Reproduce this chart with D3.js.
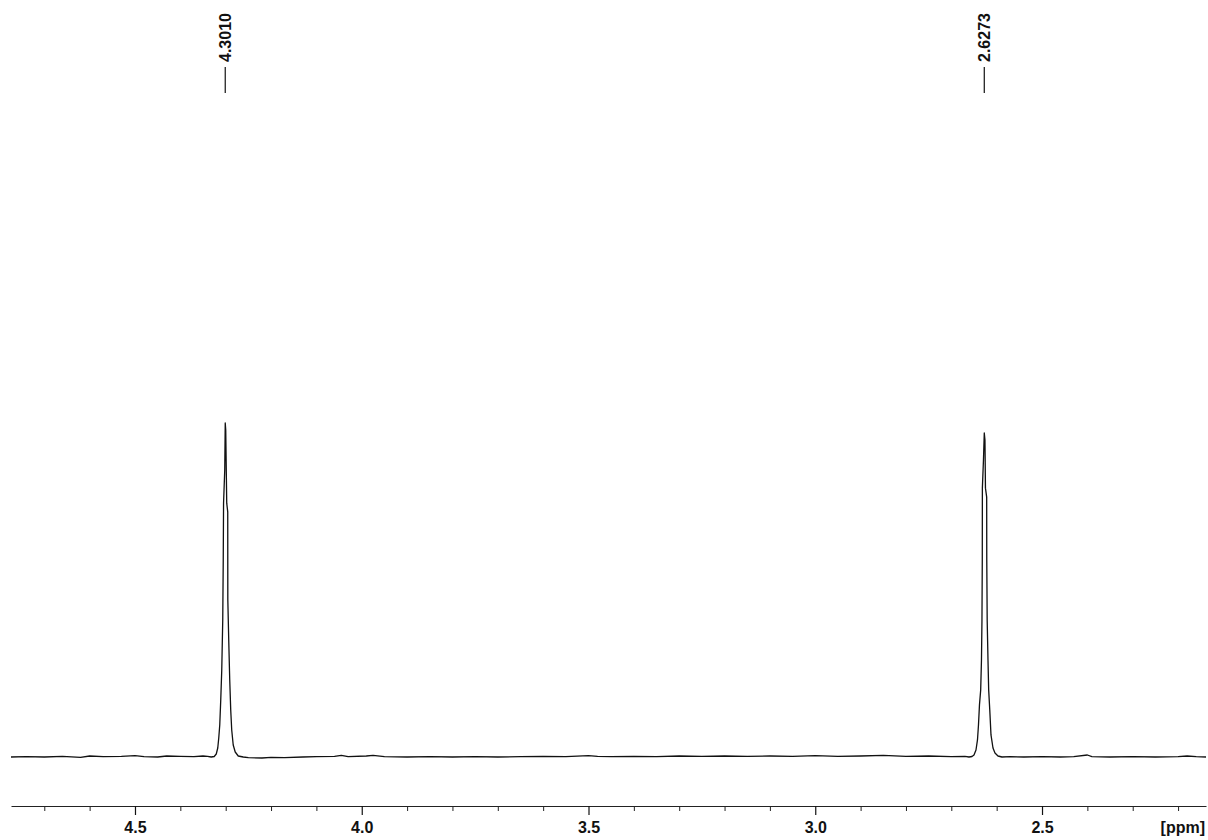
<!DOCTYPE html>
<html>
<head>
<meta charset="utf-8">
<script src="https://cdn.jsdelivr.net/npm/d3@7"></script>
<style>
  html, body { margin: 0; padding: 0; background: #fff; }
  svg { display: block; }
  text { font-family: "Liberation Sans", Arial, sans-serif; }
</style>
</head>
<body>
<svg id="chart" width="1208" height="840"></svg>
<script>
// 1H NMR spectrum, chemical shift in ppm (reversed axis), relative intensity

// Flat baseline with small noise
const baselinePpm = [4.7734, 4.74, 4.70, 4.66, 4.62, 4.60, 4.57, 4.53, 4.50, 4.48, 4.45, 4.43, 4.40, 4.37, 4.35, 4.34,
  4.25, 4.22, 4.20, 4.17, 4.13, 4.10, 4.06, 4.045, 4.03, 3.99, 3.975, 3.95, 3.90, 3.85, 3.80, 3.75, 3.70, 3.65,
  3.60, 3.55, 3.50, 3.48, 3.45, 3.40, 3.35, 3.30, 3.25, 3.20, 3.15, 3.10, 3.05, 3.00, 2.95, 2.90, 2.85, 2.80,
  2.75, 2.70, 2.67,
  2.57, 2.54, 2.50, 2.46, 2.43, 2.40, 2.39, 2.35, 2.30, 2.25, 2.20, 2.18, 2.16, 2.1384];
const baselineInt = [0.0, 0.1, 0.0, 0.2, -0.1, 0.3, 0.1, 0.2, 0.4, 0.1, 0.0, 0.3, 0.2, 0.1, 0.3, 0.2,
  -0.2, -0.3, -0.1, -0.2, 0.0, 0.1, 0.2, 0.5, 0.1, 0.3, 0.5, 0.1, 0.0, 0.1, 0.0, 0.1, 0.0, 0.1,
  0.2, 0.1, 0.4, 0.2, 0.1, 0.2, 0.1, 0.3, 0.2, 0.3, 0.2, 0.3, 0.2, 0.4, 0.2, 0.3, 0.5, 0.2,
  0.3, 0.1, 0.2,
  0.1, 0.0, 0.1, 0.0, 0.1, 0.6, 0.1, 0.0, 0.1, 0.0, 0.1, 0.3, 0.1, 0.0];

// Signal at 4.3010 ppm
const peak1Ppm = [4.3319, 4.3253, 4.3208, 4.3175, 4.3153, 4.3131, 4.3109, 4.3087, 4.3065, 4.3054, 4.3047,
  4.3021, 4.3010, 4.2999, 4.2977, 4.2955, 4.2953, 4.2933, 4.2911, 4.2889, 4.2867, 4.2834, 4.2790, 4.2723, 4.2613];
const peak1Int = [0.0, 0.15, 0.9, 2.7, 5.7, 9.6, 17.1, 26.0, 41.0, 59.0, 76.0,
  85.9, 100.0, 97.9, 76.0, 73.4, 47.0, 35.0, 23.1, 14.1, 8.1, 3.6, 1.5, 0.3, 0.0];

// Signal at 2.6273 ppm
const peak2Ppm = [2.6610, 2.6544, 2.6500, 2.6456, 2.6423, 2.6401, 2.6379, 2.6352, 2.6335, 2.6324, 2.6317, 2.6315,
  2.6291, 2.6273, 2.6258, 2.6247, 2.6220, 2.6218, 2.6209, 2.6191, 2.6176, 2.6152, 2.6125, 2.6081, 2.6037, 2.5971, 2.5883];
const peak2Int = [0.0, 0.15, 0.6, 2.1, 5.1, 9.6, 15.6, 20.1, 29.0, 41.0, 59.0, 80.5,
  88.9, 97.0, 94.9, 80.5, 77.8, 59.0, 41.0, 29.0, 20.1, 14.1, 6.6, 2.7, 1.2, 0.3, 0.0];

// Peak picking labels
const peakLabels = [4.3010, 2.6273];

// Axis ticks
const majorTicks = [4.5, 4.0, 3.5, 3.0, 2.5];
const minorTicks = [4.7, 4.6, 4.4, 4.3, 4.2, 4.1, 3.9, 3.8, 3.7, 3.6, 3.4, 3.3, 3.2, 3.1,
  2.9, 2.8, 2.7, 2.6, 2.4, 2.3, 2.2];
const axisUnit = "[ppm]";

const svg = d3.select("#chart");

const x = d3.scaleLinear().domain([4.7734, 2.1384]).range([11, 1206]);
const y = d3.scaleLinear().domain([0, 100]).range([757, 423]);

// Merge all segments into one spectrum trace, ordered along the axis
const spectrum = []
  .concat(baselinePpm.map((p, i) => ({ p, v: baselineInt[i] })))
  .concat(peak1Ppm.map((p, i) => ({ p, v: peak1Int[i] })))
  .concat(peak2Ppm.map((p, i) => ({ p, v: peak2Int[i] })))
  .sort((a, b) => b.p - a.p);

const line = d3.line().x(d => x(d.p)).y(d => y(d.v));

svg.append("path")
  .datum(spectrum)
  .attr("fill", "none")
  .attr("stroke", "#111")
  .attr("stroke-width", 1.3)
  .attr("stroke-linejoin", "round")
  .attr("d", line);

// Ppm axis
const axisY = 806;
const minorAxis = d3.axisBottom(x).tickValues(minorTicks).tickSize(5).tickSizeOuter(0).tickFormat("");
const majorAxis = d3.axisBottom(x).tickValues(majorTicks).tickSize(9).tickSizeOuter(0)
  .tickPadding(7).tickFormat(d3.format(".1f"));

const gMinor = svg.append("g").attr("transform", `translate(0,${axisY})`).call(minorAxis);
gMinor.select(".domain").remove();
gMinor.selectAll("line").attr("stroke", "#222");

const gMajor = svg.append("g").attr("transform", `translate(0,${axisY})`).call(majorAxis);
gMajor.select(".domain").attr("stroke", "#222").attr("stroke-width", 1.2);
gMajor.selectAll("line").attr("stroke", "#111").attr("stroke-width", 1.2);
gMajor.selectAll("text")
  .attr("fill", "#111")
  .style("font-family", "'Liberation Sans', Arial, sans-serif")
  .style("font-size", "16px")
  .style("font-weight", "bold");

svg.append("text")
  .attr("x", 1205)
  .attr("y", 833)
  .attr("text-anchor", "end")
  .attr("fill", "#111")
  .style("font-size", "16px")
  .style("font-weight", "bold")
  .text(axisUnit);

// Peak labels with marker lines
const pl = svg.append("g").selectAll("g").data(peakLabels).join("g")
  .attr("transform", d => `translate(${x(d)},0)`);

pl.append("line")
  .attr("x1", 0).attr("x2", 0)
  .attr("y1", 67).attr("y2", 93)
  .attr("stroke", "#111")
  .attr("stroke-width", 1.2);

pl.append("text")
  .attr("transform", "translate(0,62) rotate(-90)")
  .attr("text-anchor", "start")
  .attr("dy", "0.36em")
  .attr("fill", "#111")
  .style("font-size", "16px")
  .style("font-weight", "bold")
  .text(d => d.toFixed(4));
</script>
</body>
</html>
